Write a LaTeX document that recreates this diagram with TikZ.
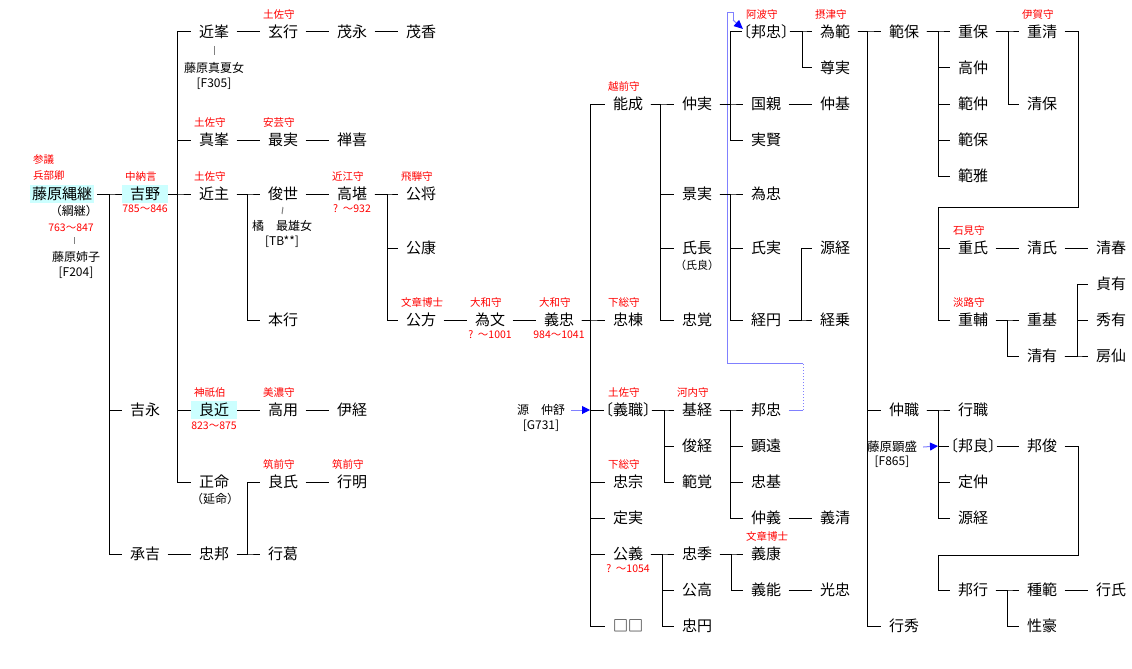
\documentclass[tikz,border=0pt]{standalone}
\usepackage{fontspec}
\setmainfont{Noto Sans CJK JP}
\usetikzlibrary{arrows.meta}
\definecolor{redt}{RGB}{255,0,0}
\definecolor{cyanbg}{RGB}{204,255,255}
\definecolor{lblue}{RGB}{128,128,255}
\definecolor{dblue}{RGB}{0,0,255}
\definecolor{tickgray}{RGB}{128,128,128}
\newcommand\mkp[4]{\node[nm] (#1) at (#2,#3) {#4};}
\newcommand\mkr[2]{\node[lbl,anchor=west] (lb#1) at ([shift={(-20,-17)}]#1.center) {#2};}
\newcommand\mkl[2]{\draw[ln] (#1.east) -- (#2.west);}
\newcommand\mkb[3]{\draw[ln] (#1.east) -| (#3 |- #2.west) -- (#2.west);}
\newcommand\brk[1]{\kern-.5em#1\kern-.5em}
\begin{document}
\begin{tikzpicture}[x=1pt,y=-1pt,
  nm/.style={font=\fontsize{15}{15}\selectfont, inner xsep=7.5pt, inner ysep=0pt, text height=12.75pt, text depth=1.5pt},
  bk/.style={nm, inner xsep=1pt},
  sm/.style={font=\fontsize{12}{12}\selectfont, inner xsep=6pt, inner ysep=0pt, text height=10.2pt, text depth=1.2pt},
  lbl/.style={font=\fontsize{10.5}{10.5}\selectfont, text=redt, inner xsep=0pt, inner ysep=0pt, text height=8.9pt, text depth=1pt},
  dt/.style={lbl},
  ln/.style={draw=black, line width=1pt},
  tick/.style={draw=tickgray, line width=1pt},
  bl/.style={draw=lblue, line width=1pt},
  cy/.style={nm, fill=cyanbg, inner ysep=2pt}
]
\useasboundingbox (0,0) rectangle (1132,669);
% vertical connector positions
\coordinate (vNawa) at (109,0);
\coordinate (vYoshino) at (177,0);
\coordinate (vChika) at (247,0);
\coordinate (vTakata) at (387,0);
\coordinate (vYT) at (590,0);
\coordinate (vYN) at (660,0);
\coordinate (vNZ) at (730,0);
\coordinate (vKZ) at (730,0);
\coordinate (vKE) at (801,0);
\coordinate (vKT) at (802,0);
\coordinate (vYM) at (664,0);
\coordinate (vMS) at (730,0);
\coordinate (vKY) at (662,0);
\coordinate (vTS) at (731,0);
\coordinate (vTN) at (867,0);
\coordinate (vNY) at (938,0);
\coordinate (vSY) at (1008,0);
\coordinate (vSS) at (1007,0);
\coordinate (vKA) at (1077,0);
\coordinate (vNM) at (938,0);
\coordinate (vKU) at (1007,0);
\coordinate (vTick) at (74,0);

% persons
\node[cy, inner xsep=2pt, outer xsep=3pt] (nawa) at (62,194) {藤原縄継};
\node[cy, inner xsep=8pt] (yoshino) at (145,194) {吉野};
\node[cy, inner xsep=8pt] (yoshichika) at (214,410) {良近};
\mkp{chikamine}{214}{32}{近峯}
\mkp{genkou}{283}{32}{玄行}
\mkp{shigenaga}{352}{32}{茂永}
\mkp{shigeka}{421}{32}{茂香}
\mkp{sanemine}{214}{140}{真峯}
\mkp{mozane}{283}{140}{最実}
\mkp{zenki}{352}{140}{禅喜}
\mkp{chikanushi}{214}{194}{近主}
\mkp{toshiyo}{283}{194}{俊世}
\mkp{takata}{352}{194}{高堪}
\mkp{kimimasa}{421}{194}{公将}
\mkp{kimiyasu}{421}{248}{公康}
\mkp{motoyuki}{283}{320}{本行}
\mkp{kimikata}{421}{320}{公方}
\mkp{tamefumi}{490}{320}{為文}
\mkp{yoshitada}{559}{320}{義忠}
\mkp{yoshinaga}{145}{410}{吉永}
\mkp{takamochi}{283}{410}{高用}
\mkp{koretsune}{352}{410}{伊経}
\mkp{masanori}{214}{482}{正命}
\mkp{yoshiuji}{283}{482}{良氏}
\mkp{yukiaki}{352}{482}{行明}
\mkp{shoukichi}{145}{554}{承吉}
\mkp{tadakuni}{214}{554}{忠邦}
\mkp{yukikatsu}{283}{554}{行葛}
\mkp{yoshinari}{628}{104}{能成}
\mkp{tadamune}{628}{320}{忠棟}
\node[bk] (yoshimoto) at (628,410) {\brk{〔義職〕}};
\mkp{tadamuneB}{628}{482}{忠宗}
\mkp{sadazane}{628}{518}{定実}
\mkp{kimiyoshi}{628}{554}{公義}
\mkp{sqsq}{628}{626}{□□}
\mkp{nakazane}{697}{104}{仲実}
\mkp{kagezane}{697}{194}{景実}
\mkp{ujinaga}{697}{248}{氏長}
\mkp{chuukaku}{697}{320}{忠覚}
\mkp{motosune}{697}{410}{基経}
\mkp{toshitsune}{697}{446}{俊経}
\mkp{hankaku}{697}{482}{範覚}
\mkp{tadasue}{697}{554}{忠季}
\mkp{kimitaka}{697}{590}{公高}
\mkp{chuuen}{697}{626}{忠円}
\node[bk] (kunitadaB) at (766,32) {\brk{〔邦忠〕}};
\mkp{kunichika}{766}{104}{国親}
\mkp{sanekata}{766}{140}{実賢}
\mkp{tametada}{766}{194}{為忠}
\mkp{ujizane}{766}{248}{氏実}
\mkp{kyouen}{766}{320}{経円}
\mkp{kunitada}{766}{410}{邦忠}
\mkp{akitoo}{766}{446}{顕遠}
\mkp{tadamoto}{766}{482}{忠基}
\mkp{nakayoshi}{766}{518}{仲義}
\mkp{yoshiyasu}{766}{554}{義康}
\mkp{yoshiyoshi}{766}{590}{義能}
\mkp{tamenori}{835}{32}{為範}
\mkp{sonjitsu}{835}{68}{尊実}
\mkp{nakamoto}{835}{104}{仲基}
\mkp{gentsune}{835}{248}{源経}
\mkp{kyoujou}{835}{320}{経乗}
\mkp{yoshikiyo}{835}{518}{義清}
\mkp{mitsutada}{835}{590}{光忠}
\mkp{noriyasu}{904}{32}{範保}
\mkp{nakamotoB}{904}{410}{仲職}
\mkp{yukihide}{904}{626}{行秀}
\mkp{shigeyasu}{973}{32}{重保}
\mkp{takanaka}{973}{68}{高仲}
\mkp{norinaka}{973}{104}{範仲}
\mkp{noriyasuB}{973}{140}{範保}
\mkp{norimasa}{973}{176}{範雅}
\mkp{shigeuji}{973}{248}{重氏}
\mkp{shigesuke}{973}{320}{重輔}
\mkp{yukimoto}{973}{410}{行職}
\node[bk] (kuniyoshi) at (973,446) {\brk{〔邦良〕}};
\mkp{sadanaka}{973}{482}{定仲}
\mkp{gentsuneB}{973}{518}{源経}
\mkp{kuniyuki}{973}{590}{邦行}
\mkp{shigekiyo}{1042}{32}{重清}
\mkp{kiyoyasu}{1042}{104}{清保}
\mkp{kiyouji}{1042}{248}{清氏}
\mkp{shigemoto}{1042}{320}{重基}
\mkp{kiyoari}{1042}{356}{清有}
\mkp{kunitoshi}{1042}{446}{邦俊}
\mkp{tanenori}{1042}{590}{種範}
\mkp{shougou}{1042}{626}{性豪}
\mkp{kiyoharu}{1111}{248}{清春}
\mkp{sadaari}{1111}{284}{貞有}
\mkp{hideari}{1111}{320}{秀有}
\mkp{fusen}{1111}{356}{房仙}
\mkp{yukiuji}{1111}{590}{行氏}

% small black notes
\node[sm] (tsunatsugu) at (74,211) {\brk{（綱継）}};
\node[sm] (aneko) at (76,257) {藤原姉子};
\node[sm] (anekoid) at (76,272) {[F204]};
\node[sm] (manatsu) at (214,68) {藤原真夏女};
\node[sm] (manatsuid) at (214,83) {[F305]};
\node[sm] (tachibana) at (282,226) {橘　最雄女};
\node[sm] (tachibanaid) at (282,241) {[TB**]};
\node[sm, font=\fontsize{11}{11}\selectfont] (ujiyoshi) at (697,265) {\brk{（氏良）}};
\node[sm] (nobunori) at (215,499) {\brk{（延命）}};
\node[sm] (nakanobu) at (541,410) {源　仲舒};
\node[sm] (nakanobuid) at (541,425) {[G731]};
\node[sm, font=\fontsize{12.5}{12.5}\selectfont] (akimori) at (892,447) {藤原顕盛};
\node[sm] (akimoriid) at (892,461) {[F865]};

% red titles
\node[lbl,anchor=west] (sangi) at (33,160) {参議};
\node[lbl,anchor=west] (hyoubu) at (33,176) {兵部卿};
\mkr{yoshino}{中納言}
\mkr{genkou}{土佐守}
\mkr{sanemine}{土佐守}
\mkr{mozane}{安芸守}
\mkr{chikanushi}{土佐守}
\mkr{takata}{近江守}
\mkr{kimimasa}{飛騨守}
\mkr{kimikata}{文章博士}
\mkr{tamefumi}{大和守}
\mkr{yoshitada}{大和守}
\mkr{yoshichika}{神祇伯}
\mkr{takamochi}{美濃守}
\mkr{yoshiuji}{筑前守}
\mkr{yukiaki}{筑前守}
\mkr{yoshinari}{越前守}
\mkr{tadamune}{下総守}
\mkr{yoshimoto}{土佐守}
\mkr{motosune}{河内守}
\mkr{tadamuneB}{下総守}
\mkr{yoshiyasu}{文章博士}
\mkr{kunitadaB}{阿波守}
\mkr{tamenori}{摂津守}
\mkr{shigekiyo}{伊賀守}
\mkr{shigeuji}{石見守}
\mkr{shigesuke}{淡路守}

% red dates
\node[dt] (dnawa) at (71,228) {763～847};
\node[dt] (dyoshino) at ([shift={(0,15)}]yoshino.center) {785～846};
\node[dt] (dtakata) at ([shift={(0,15)}]takata.center) {?\ \ ～932};
\node[dt] (dtamefumi) at ([shift={(0,15)}]tamefumi.center) {?\ \ ～1001};
\node[dt] (dyoshitada) at ([shift={(0,15)}]yoshitada.center) {984～1041};
\node[dt] (dyoshichika) at ([shift={(0,16)}]yoshichika.center) {823～875};
\node[dt] (dkimiyoshi) at ([shift={(0,15)}]kimiyoshi.center) {?\ \ ～1054};

% gray ticks
\draw[tick] ([shift={(0,14)}]chikamine.center) -- ([shift={(0,-13)}]manatsu.center);
\draw[tick] ([shift={(0,13)}]toshiyo.center) -- ([shift={(0,-12)}]tachibana.center);
\draw[tick] ([shift={(0,9)}]vTick |- dnawa.center) -- ([shift={(0,-13)}]vTick |- aneko.center);

% blue connectors
\coordinate (kd1) at (803,410);
\coordinate (kd2) at (803,363);
\coordinate (kd3) at (727,363);
\coordinate (kd4) at (727,13);
\coordinate (kd5) at (733,13);
\coordinate (kd6) at (733,20);
\coordinate (kd7) at (743,29);
\draw[bl] (kunitada.east) -- (kd1);
\draw[bl, dotted] (kd1) -- (kd2);
\draw[bl] (kd2) -- (kd3) -- (kd4) -- (kd5) -- (kd6);
\draw[bl, -{Triangle[length=9pt,width=8pt,color=dblue]}] (kd6) -- (kd7);
\draw[bl, -{Triangle[length=8pt,width=8pt,color=dblue]}] (nakanobu.east) -- (vYT |- yoshimoto.west);
\draw[bl, -{Triangle[length=8pt,width=8pt,color=dblue]}] (akimori.east) -- (vNM |- kuniyoshi.west);

% black connectors: branches
\mkb{nawa}{yoshino}{vNawa}
\mkb{nawa}{yoshinaga}{vNawa}
\mkb{nawa}{shoukichi}{vNawa}
\mkb{yoshino}{chikamine}{vYoshino}
\mkb{yoshino}{sanemine}{vYoshino}
\mkb{yoshino}{chikanushi}{vYoshino}
\mkb{yoshino}{yoshichika}{vYoshino}
\mkb{yoshino}{masanori}{vYoshino}
\mkb{chikanushi}{toshiyo}{vChika}
\mkb{chikanushi}{motoyuki}{vChika}
\mkb{tadakuni}{yoshiuji}{vChika}
\mkb{tadakuni}{yukikatsu}{vChika}
\mkb{takata}{kimimasa}{vTakata}
\mkb{takata}{kimiyasu}{vTakata}
\mkb{takata}{kimikata}{vTakata}
\mkb{yoshitada}{yoshinari}{vYT}
\mkb{yoshitada}{tadamune}{vYT}
\mkb{yoshitada}{yoshimoto}{vYT}
\mkb{yoshitada}{tadamuneB}{vYT}
\mkb{yoshitada}{sadazane}{vYT}
\mkb{yoshitada}{kimiyoshi}{vYT}
\mkb{yoshitada}{sqsq}{vYT}
\mkb{yoshinari}{nakazane}{vYN}
\mkb{yoshinari}{kagezane}{vYN}
\mkb{yoshinari}{ujinaga}{vYN}
\mkb{yoshinari}{chuukaku}{vYN}
\mkb{nakazane}{kunitadaB}{vNZ}
\mkb{nakazane}{kunichika}{vNZ}
\mkb{nakazane}{sanekata}{vNZ}
\mkb{kagezane}{tametada}{vKZ}
\mkb{kagezane}{ujizane}{vKZ}
\mkb{kagezane}{kyouen}{vKZ}
\mkb{kyouen}{gentsune}{vKE}
\mkb{kyouen}{kyoujou}{vKE}
\mkb{kunitadaB}{tamenori}{vKT}
\mkb{kunitadaB}{sonjitsu}{vKT}
\mkb{yoshimoto}{motosune}{vYM}
\mkb{yoshimoto}{toshitsune}{vYM}
\mkb{yoshimoto}{hankaku}{vYM}
\mkb{motosune}{kunitada}{vMS}
\mkb{motosune}{akitoo}{vMS}
\mkb{motosune}{tadamoto}{vMS}
\mkb{motosune}{nakayoshi}{vMS}
\mkb{kimiyoshi}{tadasue}{vKY}
\mkb{kimiyoshi}{kimitaka}{vKY}
\mkb{kimiyoshi}{chuuen}{vKY}
\mkb{tadasue}{yoshiyasu}{vTS}
\mkb{tadasue}{yoshiyoshi}{vTS}
\mkb{tamenori}{noriyasu}{vTN}
\mkb{tamenori}{nakamotoB}{vTN}
\mkb{tamenori}{yukihide}{vTN}
\mkb{noriyasu}{shigeyasu}{vNY}
\mkb{noriyasu}{takanaka}{vNY}
\mkb{noriyasu}{norinaka}{vNY}
\mkb{noriyasu}{noriyasuB}{vNY}
\mkb{noriyasu}{norimasa}{vNY}
\mkb{shigeyasu}{shigekiyo}{vSY}
\mkb{shigeyasu}{kiyoyasu}{vSY}
\mkb{shigesuke}{shigemoto}{vSS}
\mkb{shigesuke}{kiyoari}{vSS}
\mkb{kiyoari}{sadaari}{vKA}
\mkb{kiyoari}{hideari}{vKA}
\mkb{kiyoari}{fusen}{vKA}
\mkb{nakamotoB}{yukimoto}{vNM}
\mkb{nakamotoB}{kuniyoshi}{vNM}
\mkb{nakamotoB}{sadanaka}{vNM}
\mkb{nakamotoB}{gentsuneB}{vNM}
\mkb{kuniyuki}{tanenori}{vKU}
\mkb{kuniyuki}{shougou}{vKU}
% long connectors
\coordinate (sk1) at (1078,207);
\coordinate (sk2) at (938,207);
\draw[ln] (shigekiyo.east) -| (sk1) -- (sk2) |- (shigeuji.west);
\draw[ln] (sk2) |- (shigesuke.west);
\coordinate (kt1) at (1078,555);
\coordinate (kt2) at (938,555);
\draw[ln] (kunitoshi.east) -| (kt1) -- (kt2) |- (kuniyuki.west);

% black connectors: same-row links
\mkl{chikamine}{genkou}
\mkl{genkou}{shigenaga}
\mkl{shigenaga}{shigeka}
\mkl{sanemine}{mozane}
\mkl{mozane}{zenki}
\mkl{toshiyo}{takata}
\mkl{kimikata}{tamefumi}
\mkl{tamefumi}{yoshitada}
\mkl{yoshichika}{takamochi}
\mkl{takamochi}{koretsune}
\mkl{yoshiuji}{yukiaki}
\mkl{shoukichi}{tadakuni}
\mkl{kunichika}{nakamoto}
\mkl{nakayoshi}{yoshikiyo}
\mkl{yoshiyoshi}{mitsutada}
\mkl{shigeuji}{kiyouji}
\mkl{kiyouji}{kiyoharu}
\mkl{kuniyoshi}{kunitoshi}
\mkl{tanenori}{yukiuji}
\end{tikzpicture}
\end{document}
